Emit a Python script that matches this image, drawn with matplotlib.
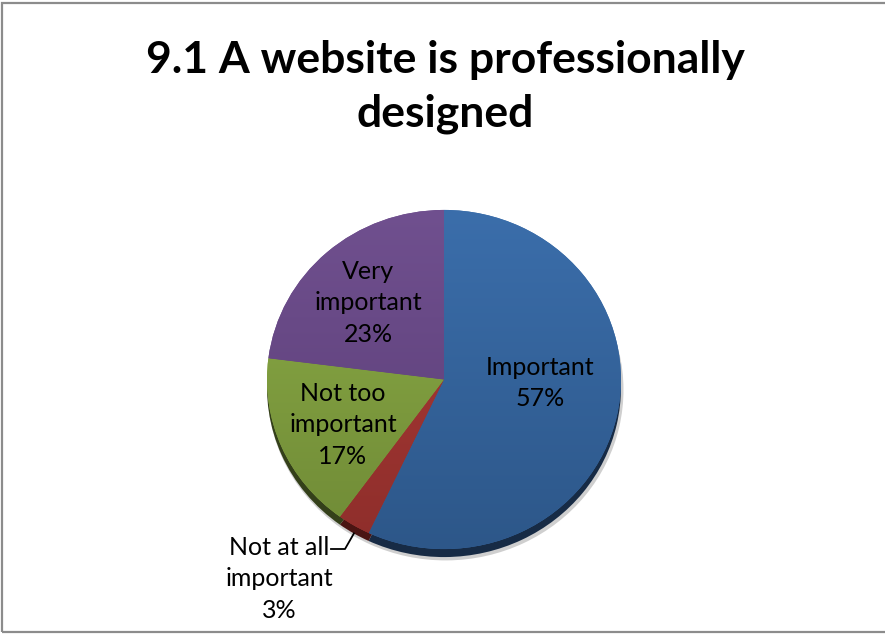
import numpy as np
import matplotlib
matplotlib.use("Agg")
import matplotlib.pyplot as plt
from matplotlib.colors import LinearSegmentedColormap
from matplotlib.patches import Rectangle

# --- data -------------------------------------------------------------
categories = ["Important", "Not at all\nimportant", "Not too\nimportant", "Very\nimportant"]
shares = [57, 3, 17, 23]
title = "9.1 A website is professionally\ndesigned"

top_colors = ["#3B6EAB", "#AE3B37", "#8DAD47", "#70508F"]
bottom_colors = ["#2D5789", "#8E2E2B", "#6F8A36", "#5A3D76"]
side_colors = ["#172B45", "#4A1513", "#34401A", "#2E1F3D"]

W, H = 885, 635
plt.rcParams["font.family"] = ["Lato", "DejaVu Sans"]

fig = plt.figure(figsize=(W / 100, H / 100), dpi=100)
ax = fig.add_axes([0, 0, 1, 1])

squash = 0.958                 # slight tilt of the 3-D pie
ymax = H / squash


def P(px, py):
    """Figure pixel (from top-left) -> data coordinates."""
    return px, (H - py) / squash


cx, cy = P(444, 379.5)
R = 177
depth = 8 / squash

# soft grey drop shadow
ax.pie(shares, startangle=90, counterclock=False, radius=R + 1,
       center=(cx + 1.5, cy - depth - 2.5), colors=["#CFCFCF"] * 4,
       wedgeprops=dict(linewidth=0))
# dark side of the disc
ax.pie(shares, startangle=90, counterclock=False, radius=R,
       center=(cx, cy - depth), colors=side_colors,
       wedgeprops=dict(linewidth=0))
# top face
wedges, _ = ax.pie(shares, startangle=90, counterclock=False, radius=R,
                   center=(cx, cy), colors=top_colors,
                   wedgeprops=dict(linewidth=0))

# vertical shading on each wedge
grad = np.linspace(0, 1, 256).reshape(-1, 1)
for w, c0, c1 in zip(wedges, top_colors, bottom_colors):
    cmap = LinearSegmentedColormap.from_list("shade", [c0, c1])
    im = ax.imshow(grad, cmap=cmap, extent=(cx - R, cx + R, cy - R, cy + R),
                   origin="upper", aspect="auto", zorder=w.get_zorder() + 0.1,
                   interpolation="bilinear")
    im.set_clip_path(w)

ax.set_aspect("auto")
ax.set_xlim(0, W)
ax.set_ylim(0, ymax)
ax.axis("off")

# --- labels -----------------------------------------------------------
lab_kw = dict(ha="center", va="center", fontsize=18, color="black",
              linespacing=1.45, zorder=10)
labels = [f"{c}\n{v}%" for c, v in zip(categories, shares)]
ax.text(*P(540, 383), labels[0], **lab_kw)
ax.text(*P(368, 303), labels[3], **lab_kw)
ax.text(*P(343, 425), labels[2], **lab_kw)
ax.text(*P(279, 579), labels[1], **lab_kw)

# leader line for the thin slice
theta_start = 90 - 360 * shares[0] / 100
theta_mid = np.deg2rad(theta_start - 360 * shares[1] / 200)
rim_x = cx + R * np.cos(theta_mid)
rim_y = cy + R * np.sin(theta_mid) - depth
ex, ey = P(345, 549)
sx, sy = P(331, 549)
ax.plot([rim_x, ex, sx], [rim_y, ey, sy], color="black", lw=1.3, zorder=10)

# --- title ------------------------------------------------------------
fig.text(445 / W, 1 - 87 / H, title, ha="center", va="center",
         fontsize=32, fontweight="bold", linespacing=1.4)

# chart frame
fig.patches.append(Rectangle((2 / W, 3 / H), 1.2, 1 - 6 / H, transform=fig.transFigure,
                             fill=False, edgecolor="#8C8C8C", lw=1.6))

fig.savefig("out.png", dpi=100, facecolor="white")
